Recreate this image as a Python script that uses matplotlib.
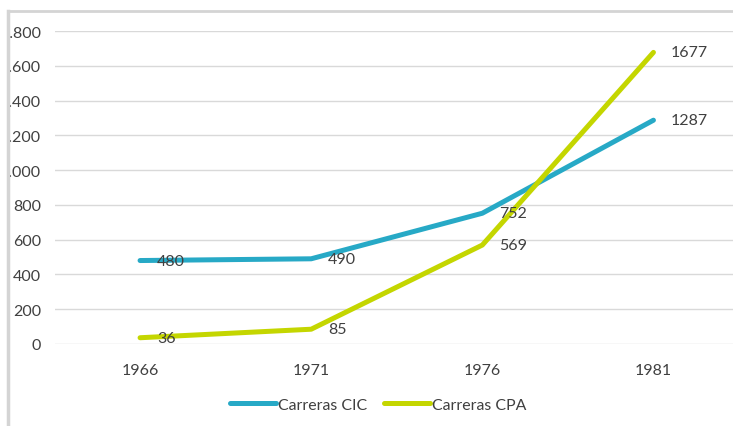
import matplotlib.pyplot as plt
from matplotlib.patches import Rectangle
from matplotlib.lines import Line2D

years = ['1966', '1971', '1976', '1981']
cic = [480, 490, 752, 1287]
cpa = [36, 85, 569, 1677]
yticks = [0, 200, 400, 600, 800, 1000, 1200, 1400, 1600, 1800]
ylabels = ['0', '200', '400', '600', '800', '1.000', '1.200', '1.400', '1.600', '1.800']

plt.rcParams['font.family'] = ['Lato', 'DejaVu Sans']
txt = '#404040'
blue = '#27A9C6'
green = '#C4D600'
fs = 11.5

fig = plt.figure(figsize=(7.33, 4.27), dpi=100)
W, H = 733.0, 427.0
ax = fig.add_axes([54.5 / W, 1 - 345 / H, (739 - 54.5) / W, (345 - 32) / H])

x = list(range(len(years)))
ax.plot(x, cic, color=blue, lw=3.6, solid_capstyle='round', zorder=3)
ax.plot(x, cpa, color=green, lw=3.6, solid_capstyle='round', zorder=3)

for i in x:
    ax.annotate(str(cic[i]), (i, cic[i]), xytext=(17, 0), textcoords='offset pixels',
                ha='left', va='center', fontsize=fs, color=txt, zorder=4)
    ax.annotate(str(cpa[i]), (i, cpa[i]), xytext=(17, 0), textcoords='offset pixels',
                ha='left', va='center', fontsize=fs, color=txt, zorder=4)

ax.set_xlim(-0.5, 3.5)
ax.set_ylim(0, 1800)
ax.set_xticks(x)
ax.set_xticklabels(years)
ax.set_yticks(yticks)
ax.set_yticklabels(ylabels)

# the screenshot is cropped just left of the "." in "1.800": place labels so
# the visible part starts right after the frame line
r = fig.canvas.get_renderer()
probe = fig.text(0, 0, '.800', fontsize=fs)
wpx = probe.get_window_extent(r).width
probe.remove()
ypad = (54.5 - (9.5 + wpx)) * 72 / 100

ax.tick_params(length=0, labelsize=fs, labelcolor=txt)
ax.tick_params(axis='x', pad=14)
ax.tick_params(axis='y', pad=ypad)
ax.grid(axis='y', color='#d9d9d9', lw=1)
ax.set_axisbelow(True)
for s in ax.spines.values():
    s.set_visible(False)

handles = [Line2D([], [], color=blue, lw=3.6, solid_capstyle='round'),
           Line2D([], [], color=green, lw=3.6, solid_capstyle='round')]
fig.legend(handles, ['Carreras CIC', 'Carreras CPA'], loc='center',
           bbox_to_anchor=(378 / W, 1 - 406 / H), ncol=2, frameon=False,
           fontsize=11.4, handlelength=2.9, handletextpad=0.1, columnspacing=1.1,
           labelcolor=txt)

# cropped frame of the original screenshot
fig.add_artist(Rectangle((0, 0), 7.5 / W, 1, transform=fig.transFigure,
                         facecolor='white', edgecolor='none', zorder=10))
fig.add_artist(Rectangle((0, 1 - 11 / H), 1, 11 / H, transform=fig.transFigure,
                         facecolor='white', edgecolor='none', zorder=10))
fig.add_artist(Line2D([8 / W, 8 / W], [0, 1 - 12 / H], transform=fig.transFigure,
                      color='#d4d4d4', lw=2.5, zorder=11))
fig.add_artist(Line2D([8 / W, 1], [1 - 12 / H, 1 - 12 / H], transform=fig.transFigure,
                      color='#d4d4d4', lw=2, zorder=11))

fig.savefig('out.png', dpi=100)
